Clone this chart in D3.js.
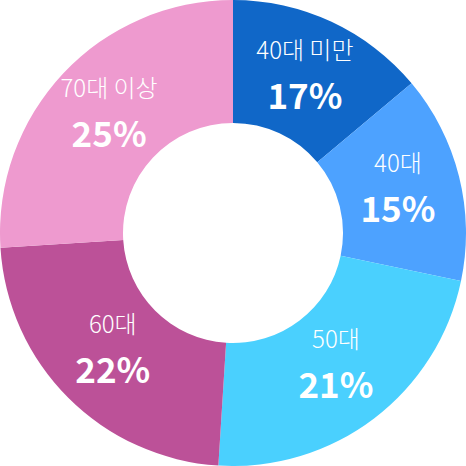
<!DOCTYPE html>
<html>
<head>
<meta charset="utf-8">
<script src="https://cdn.jsdelivr.net/npm/d3@7"></script>
<style>
  html, body { margin: 0; padding: 0; background: #fff; }
  svg { display: block; }
  text { font-family: "Noto Sans CJK KR", "Noto Sans", sans-serif; fill: #fff; }
</style>
</head>
<body>
<svg id="chart" width="466" height="466"></svg>
<script>
"use strict";

// categories, clockwise from 12 o'clock
const categories = ["40대 미만", "40대", "50대", "60대", "70대 이상"];
// percent labels as printed on the chart
const percents = [17, 15, 21, 22, 25];
// arc sizes as drawn in the picture (share of the ring, %)
const shares = [13.9, 14.4, 22.7, 23.0, 26.0];
const colors = ["#1067c8", "#4da2ff", "#4ad0fe", "#bc5198", "#ee9acf"];

const width = 466;
const height = 466;
const outerR = 233;
const innerR = 110;
const labelR = 170;

const data = categories.map((c, i) => ({
	name: c,
	share: shares[i],
	pct: percents[i],
	color: colors[i]
}));

const svg = d3.select("#chart");
const g = svg.append("g").attr("transform", `translate(${width / 2},${height / 2})`);

const pie = d3.pie().sort(null).value(d => d.share);
const arc = d3.arc().innerRadius(innerR).outerRadius(outerR);
const labelArc = d3.arc().innerRadius(labelR).outerRadius(labelR);

const arcs = pie(data);

g.selectAll("path.slice")
	.data(arcs)
	.join("path")
	.attr("class", "slice")
	.attr("d", arc)
	.attr("fill", d => d.data.color);

let labels = g.selectAll("g.label")
	.data(arcs)
	.join("g")
	.attr("class", "label")
	.attr("transform", d => `translate(${labelArc.centroid(d)})`);

// name on top, percent below
labels.append("text")
	.attr("text-anchor", "middle")
	.attr("y", -20)
	.attr("font-size", 24)
	.attr("font-weight", 300)
	.text(d => d.data.name);

labels.append("text")
	.attr("text-anchor", "middle")
	.attr("y", 30)
	.attr("font-size", 35)
	.attr("font-weight", 700)
	.text(d => `${d.data.pct}%`);
</script>
</body>
</html>
